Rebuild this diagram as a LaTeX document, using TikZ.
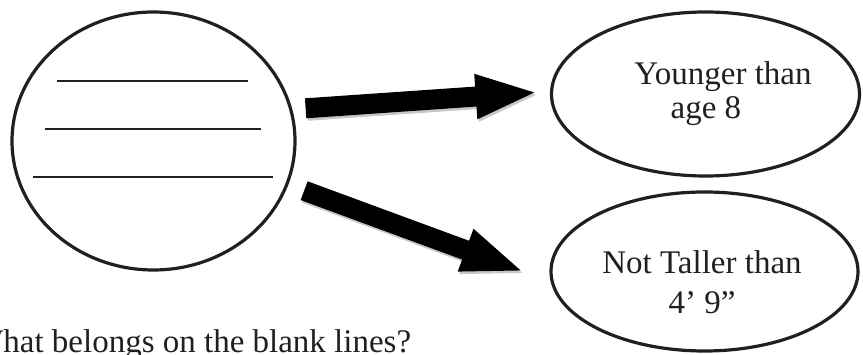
\documentclass[tikz,border=0pt]{standalone}
\usepackage{fontspec}
\setmainfont{Liberation Serif}
\usepackage{tikz}
\usetikzlibrary{arrows.meta,shapes.geometric}
\definecolor{inkgray}{HTML}{231F20}
\tikzset{
  bubble/.style={draw=inkgray,ellipse,line width=3.2pt,inner sep=0pt,outer sep=0pt},
  blank/.style={draw=inkgray,line width=2pt},
  txt/.style={text=inkgray,inner sep=0pt,font=\fontsize{33}{34}\selectfont},
  fat/.style={line width=20pt,-{Triangle[length=63pt,width=40pt]}},
  ghost/.style={draw=black!22,transform canvas={shift={(1.5pt,-2.5pt)}}},
}

\begin{document}
\begin{tikzpicture}[x=1pt,y=-1pt]
\useasboundingbox (0,0) rectangle (863,355);
\clip (0,0) rectangle (863,355);

\node[bubble,minimum width=283pt,minimum height=258pt] (circ) at (153.5,141) {};
\node[bubble,minimum width=308pt,minimum height=164pt] (young) at (705.5,94) {};
\node[bubble,minimum width=307pt,minimum height=159pt] (tall) at (704.5,271.5) {};

\node[txt,align=left,xshift=17.5pt] (youngtxt) at (young.center) {Younger than\\\hspace*{1.1em}age 8};
\node[txt,align=center,font=\fontsize{33}{40}\selectfont,xshift=-2.5pt,yshift=-11pt] (talltxt) at (tall.center) {Not Taller than\\4’ 9”};

% blank lines
\draw[blank] (57,81) -- (248,81);
\draw[blank] (45,129) -- (261,129);
\draw[blank] (33,177) -- (273,177);

% arrows
\draw[fat,ghost,shorten <=15pt,shorten >=13pt] (circ.13) -- (young.179);
\draw[fat,ghost,shorten <=18.5pt,shorten >=29.5pt] (circ.-18) -- (tall.184.4);
\draw[fat,shorten <=15pt,shorten >=13pt] (circ.13) -- (young.179);
\draw[fat,shorten <=18.5pt,shorten >=29.5pt] (circ.-18) -- (tall.184.4);

\node[txt,anchor=base west] (question) at (-28,353) {What belongs on the blank lines?};
\end{tikzpicture}
\end{document}
